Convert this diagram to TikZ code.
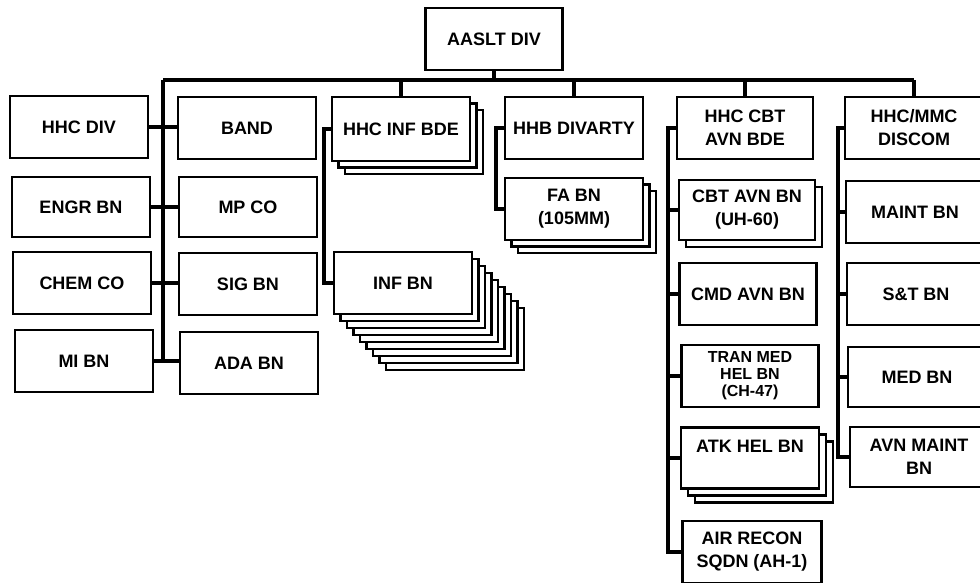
\documentclass[tikz,border=0pt]{standalone}
\usepackage{fontspec}
\setmainfont{Liberation Sans}
\begin{document}
\begin{tikzpicture}[x=1pt, y=-1pt,
    unit/.style={draw, line width=2.2pt, fill=white, minimum width=138pt, minimum height=62pt, inner sep=0pt, align=center, font=\fontsize{18}{23}\selectfont\bfseries},
    feed/.style={line width=3.4pt}]
    \useasboundingbox (0,0) rectangle (980,582);
    \clip (0,0) rectangle (980,582);

    \node[unit, minimum width=137pt] (aaslt) at (494,39) {AASLT DIV};

    \node[unit] (hhcdiv) at (79,127) {HHC DIV};
    \node[unit, minimum height=60pt] (engr) at (81,207) {ENGR BN};
    \node[unit] (chem) at (82,283) {CHEM CO};
    \node[unit] (mi) at (84,361) {MI BN};

    \node[unit] (band) at (247,128) {BAND};
    \node[unit, minimum height=60pt] (mpco) at (248,207) {MP CO};
    \node[unit] (sig) at (248,284) {SIG BN};
    \node[unit] (ada) at (249,363) {ADA BN};

    \foreach \i in {2,1}
        \node[unit, minimum height=64pt] (infbde\i) at (401+\i*6.5,129+\i*6.5) {};
    \node[unit, minimum height=64pt] (infbde) at (401,129) {HHC INF BDE};
    \foreach \i in {8,...,1}
        \node[unit] (infbn\i) at (403+\i*6.5,283+\i*7) {};
    \node[unit] (infbn) at (403,283) {INF BN};

    \node[unit] (divarty) at (574,128) {HHB DIVARTY};
    \foreach \i in {2,1}
        \node[unit] (fabn\i) at (574+\i*6.5,209+\i*6.5) {};
    \node[unit] (fabn) at (574,209) {FA BN\\(105MM)};

    \node[unit, minimum width=136pt] (cbtbde) at (745,128) {HHC CBT\\AVN BDE};
    \node[unit, minimum width=136pt, minimum height=60pt] (cbtbn1) at (754,217) {};
    \node[unit, minimum width=136pt, minimum height=60pt] (cbtbn) at (747,210) {CBT AVN BN\\(UH-60)};
    \node[unit, minimum width=137pt] (cmd) at (748,294) {CMD AVN BN};
    \node[unit, minimum width=137pt, font=\fontsize{16}{17}\selectfont\bfseries] (tran) at (750,376) {TRAN MED\\HEL BN\\(CH-47)};
    \foreach \i in {2,1}
        \node[unit, minimum height=61pt] (atk\i) at (750+\i*7,458+\i*7) {};
    \node[unit, minimum height=61pt] (atk) at (750,458) {ATK HEL BN\\ ~};
    \node[unit, minimum width=139pt] (airrecon) at (752,552) {AIR RECON\\SQDN (AH-1)};

    \node[unit] (discom) at (914,128) {HHC/MMC\\DISCOM};
    \node[unit] (maint) at (915,212) {MAINT BN};
    \node[unit] (st) at (916,294) {S\&T BN};
    \node[unit, minimum height=60pt] (med) at (917,377) {MED BN};
    \node[unit, minimum height=60pt] (avnmaint) at (919,457) {AVN MAINT\\BN};

    \coordinate (busL) at (163,80);
    \draw[feed] (aaslt.south) -- (aaslt.south |- busL);
    \draw[feed] (busL) -- (busL -| discom.north);
    \foreach \n in {infbde,divarty,cbtbde,discom}
        \draw[feed] (\n.north |- busL) -- (\n.north);
    \draw[feed] (busL) -- (busL |- mi.east);
    \draw[feed] (hhcdiv.east) -- (hhcdiv.east -| band.west);
    \draw[feed] (engr.east) -- (engr.east -| mpco.west);
    \draw[feed] (chem.east) -- (chem.east -| sig.west);
    \draw[feed] (mi.east) -- (mi.east -| ada.west);

    \draw[feed] (infbde.west) -- ++(-7,0) |- (infbn.west);
    \draw[feed] (divarty.west) -- ++(-8,0) |- (fabn.west);

    \coordinate (cbtspine) at (668,0);
    \draw[feed] (cbtbde.west) -| (cbtspine |- airrecon.west) -- (airrecon.west);
    \foreach \n in {cbtbn,cmd,tran,atk}
        \draw[feed] (\n.west) -- (\n.west -| cbtspine);

    \coordinate (disspine) at (838,0);
    \draw[feed] (discom.west) -| (disspine |- avnmaint.west) -- (avnmaint.west);
    \foreach \n in {maint,st,med}
        \draw[feed] (\n.west) -- (\n.west -| disspine);
\end{tikzpicture}
\end{document}
